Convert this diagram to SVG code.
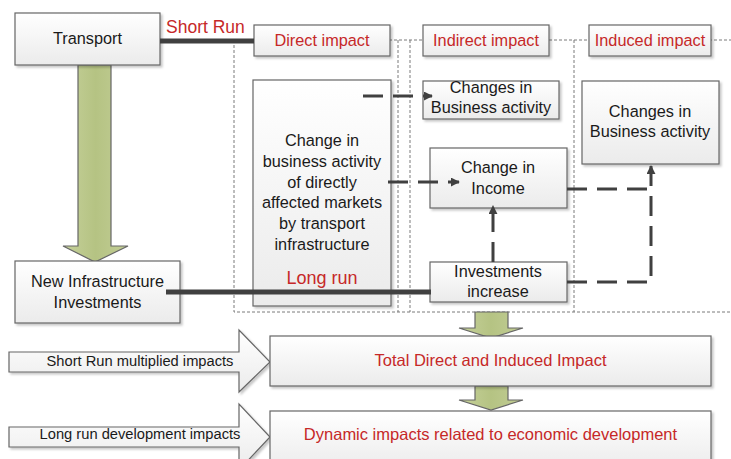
<svg xmlns="http://www.w3.org/2000/svg" width="731" height="459" viewBox="0 0 731 459">
<defs>
<linearGradient id="boxg" x1="0" y1="0" x2="0" y2="1"><stop offset="0" stop-color="#ffffff"/><stop offset="1" stop-color="#ebebeb"/></linearGradient>
<linearGradient id="greeng" x1="0" y1="0" x2="1" y2="0"><stop offset="0" stop-color="#c6d19b"/><stop offset="0.5" stop-color="#b5c383"/><stop offset="1" stop-color="#c2cd95"/></linearGradient>
<filter id="sh" x="-10%" y="-10%" width="130%" height="130%"><feDropShadow dx="2" dy="2" stdDeviation="1.2" flood-color="#000" flood-opacity="0.22"/></filter>
<marker id="ah" viewBox="0 0 10 10" refX="9" refY="5" markerWidth="3" markerHeight="3" orient="auto" markerUnits="strokeWidth"><path d="M0,0 L10,5 L0,10 z" fill="#404040"/></marker>
<style>
.box{fill:url(#boxg);stroke:#666;stroke-width:1.2;filter:url(#sh)}
.green{fill:url(#greeng);stroke:#666;stroke-width:1.2}
.region{fill:none;stroke:#7a7a7a;stroke-width:1;stroke-dasharray:3 2}
.thick{stroke:#404040;stroke-width:5;fill:none}
.dash{stroke:#404040;stroke-width:3;fill:none;stroke-dasharray:20 10}
text{font-family:"Liberation Sans",Arial,sans-serif;text-anchor:middle;fill:#1a1a1a;font-size:16.3px}
.red{fill:#c62828}
.small{font-size:14.7px}
</style>
</defs>
<rect width="731" height="459" fill="#ffffff"/>

<g id="regions">
<path class="region" d="M234,40 H731 M234,40 V312 H731 M398,40 V312 M410,40 V312 M574,40 V312"/>
</g>

<g id="green-arrows">
<path class="green" d="M78,65 H111 V246 H128 L95,262 L63,246 H78 Z"/>
<path class="green" d="M475,312 H508 V328 H523 L491,338 L459,328 H475 Z"/>
<path class="green" d="M475,386 H508 V400 H523 L491,410 L459,400 H475 Z"/>
</g>

<g id="transport"><rect class="box" x="15" y="13" width="145" height="52"/><text x="87.5" y="44">Transport</text></g>
<g id="short-run-label"><text class="red" x="166" y="33" style="text-anchor:start;font-size:17.5px">Short Run</text></g>
<g id="direct-impact"><rect class="box" x="254" y="25" width="136" height="31"/><text class="red" x="322" y="46">Direct impact</text></g>
<g id="indirect-impact"><rect class="box" x="423" y="25" width="126" height="31"/><text class="red" x="486" y="46">Indirect impact</text></g>
<g id="induced-impact"><rect class="box" x="589" y="25" width="122" height="31"/><text class="red" x="650" y="46">Induced impact</text></g>

<g id="indirect-business"><rect class="box" x="423" y="81" width="136" height="38"/><text x="491" y="93">Changes in</text><text x="491" y="113">Business activity</text></g>
<g id="induced-business"><rect class="box" x="582" y="81" width="137" height="83"/><text x="650" y="117">Changes in</text><text x="650" y="137">Business activity</text></g>

<g id="direct-change"><rect class="box" x="253" y="80" width="138" height="226"/>
<text x="322" y="146">Change in</text><text x="322" y="167">business activity</text><text x="322" y="188">of directly</text><text x="322" y="208">affected markets</text><text x="322" y="229">by transport</text><text x="322" y="250">infrastructure</text>
<text class="red" x="322" y="284" style="font-size:18px">Long run</text></g>

<g id="change-income"><rect class="box" x="430" y="148" width="137" height="60"/><text x="498" y="173">Change in</text><text x="498" y="194">Income</text></g>
<g id="investments-increase"><rect class="box" x="430" y="262" width="137" height="40"/><text x="498" y="277">Investments</text><text x="498" y="297">increase</text></g>

<g id="new-infrastructure"><rect class="box" x="15" y="261" width="165" height="62"/><text x="97.5" y="287">New Infrastructure</text><text x="97.5" y="308">Investments</text></g>

<g id="short-run-arrow"><path class="box" d="M9,352 H239 V330 L270,362 L239,392 V372 H9 Z"/><text class="small" x="140" y="366">Short Run multiplied impacts</text></g>
<g id="long-run-arrow"><path class="box" d="M9,427 H239 V404 L270,437 L239,470 V447 H9 Z"/><text class="small" x="140" y="439">Long run development impacts</text></g>

<g id="total-impact"><rect class="box" x="270" y="336" width="441" height="50"/><text class="red" x="490.5" y="366" style="font-size:16.5px">Total Direct and Induced Impact</text></g>
<g id="dynamic-impact"><rect class="box" x="270" y="411" width="441" height="60"/><text class="red" x="490.5" y="440" style="font-size:16.5px">Dynamic impacts related to economic development</text></g>

<g id="connectors">
<path class="thick" d="M160,41 H254"/>
<path class="thick" d="M166,292 H431"/>
<path class="dash" d="M363,96 H432" marker-end="url(#ah)"/>
<path class="dash" d="M388,182 H459" marker-end="url(#ah)"/>
<path class="dash" d="M493,262 V206" marker-end="url(#ah)"/>
<path class="dash" d="M567,282 H651 V166" marker-end="url(#ah)"/>
<path class="dash" d="M567,189 H651"/>
</g>
</svg>
